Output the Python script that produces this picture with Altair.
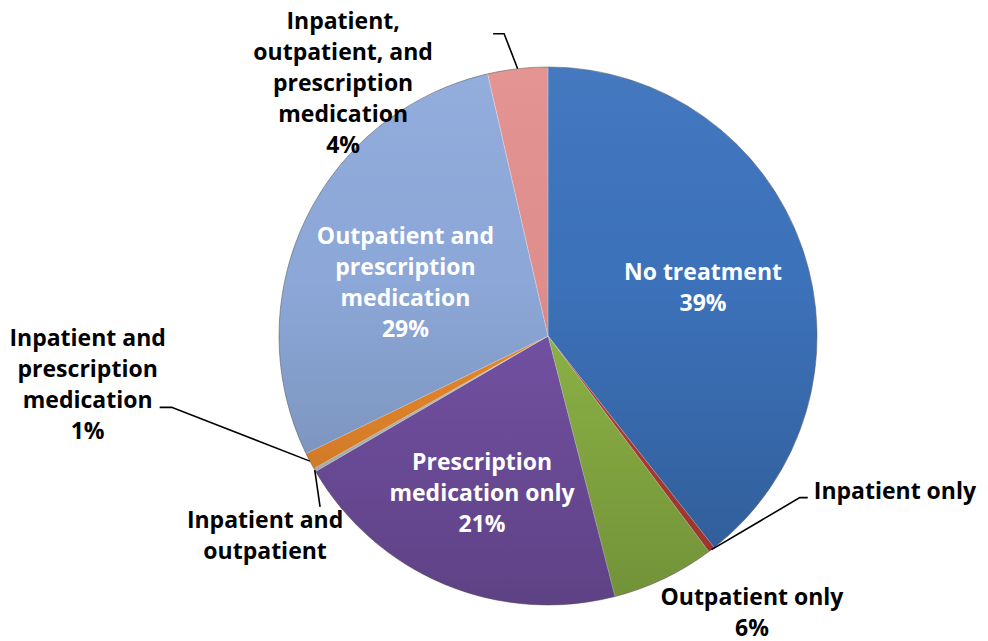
import math
import altair as alt
import pandas as pd

# ---------------- data ----------------
categories = [
    "No treatment",
    "Inpatient only",
    "Outpatient only",
    "Prescription medication only",
    "Inpatient and outpatient",
    "Inpatient and prescription medication",
    "Outpatient and prescription medication",
    "Inpatient, outpatient, and prescription medication",
]
values = [39.4, 0.4, 6.2, 20.6, 0.2, 1.0, 28.6, 3.6]
show_pct = [True, False, True, True, False, True, True, True]
display_names = [
    "No treatment",
    "Inpatient only",
    "Outpatient only",
    "Prescription\nmedication only",
    "Inpatient and\noutpatient",
    "Inpatient and\nprescription\nmedication",
    "Outpatient and\nprescription\nmedication",
    "Inpatient,\noutpatient, and\nprescription\nmedication",
]
colors = ["#3D74BE", "#C0403A", "#92BA48", "#7854AA",
          "#BCC6C8", "#F28E2E", "#8FABDC", "#E3918F"]

# ---------------- layout (styles / label placement) ----------------
CX, CY, R = 540, 328, 269
LH = 31
inside = [True, False, False, True, False, False, True, False]
label_r = [162, 308, 344, 171, 347, 463, 152, 325]
label_off = [2.2, -22.2, -10.8, 0.0, -5.5, 21.6, -5.3, -32.6]
label_align = ["center", "left", "center", "center", "center", "center", "center", "center"]
# leader: (dx, dy) offsets from the label block centre, after the start on the slice edge
leaders = {
    1: [(-14, 6), (-6, 6)],
    4: [(55, -30)],
    5: [(84, 22), (72, 22)],
    7: [(161, -50), (150, -50)],
}

total = sum(values)
rows = []
cum = 0.0
for i, (c, v) in enumerate(zip(categories, values)):
    mid = (cum + v / 2) / total * 2 * math.pi
    cum += v
    text = display_names[i] + (f"\n{round(v)}%" if show_pct[i] else "")
    n = text.count("\n") + 1
    a = mid + math.radians(label_off[i])
    bx = label_r[i] * math.sin(a)
    by = -label_r[i] * math.cos(a)
    fy = by - (n - 1) * LH / 2          # first line of the block
    rows.append(dict(
        idx=i, category=c, value=v, label=text,
        ang=math.atan2(bx, -fy), lr=math.hypot(bx, fy),
        bx=CX + bx, by=CY + by,
        tc="#ffffff" if inside[i] else "#000000",
        align=label_align[i], mid=mid,
    ))
df = pd.DataFrame(rows)

# leader lines derived from slice mid-angles and label anchors
lrows = []
for i, pts in leaders.items():
    r = rows[i]
    sx = CX + R * math.sin(r["mid"])
    sy = CY - R * math.cos(r["mid"])
    lrows.append(dict(id=i, o=0, x=sx, y=sy))
    for k, (dx, dy) in enumerate(pts):
        lrows.append(dict(id=i, o=k + 1, x=r["bx"] + dx, y=r["by"] + dy))
ldf = pd.DataFrame(lrows)

base = alt.Chart(df)

arcs = base.mark_arc(radius=R, stroke="#ffffff", strokeWidth=0.6, strokeOpacity=0.4).encode(
    theta=alt.Theta("value:Q", stack=True),
    color=alt.Color("category:N", scale=alt.Scale(domain=categories, range=colors), legend=None),
    order=alt.Order("idx:Q"),
    x=alt.value(CX),
    y=alt.value(CY),
)

shade = alt.Chart(pd.DataFrame({"v": [1]})).mark_arc(
    radius=R,
    stroke="rgba(0,0,0,0.35)", strokeWidth=1,
    fill=alt.LinearGradient(
        gradient="linear",
        stops=[alt.GradientStop(offset=0, color="rgba(255,255,255,0.04)"),
               alt.GradientStop(offset=0.4, color="rgba(0,0,0,0.02)"),
               alt.GradientStop(offset=1, color="rgba(0,0,0,0.22)")],
        x1=0, x2=0, y1=0, y2=1,
    ),
).encode(theta=alt.Theta("v:Q"), x=alt.value(CX), y=alt.value(CY))

lines = alt.Chart(ldf).mark_line(color="#000000", strokeWidth=1.6).encode(
    x=alt.X("x:Q", scale=None),
    y=alt.Y("y:Q", scale=None),
    detail="id:N",
    order="o:Q",
)

def text_layer(al):
    return base.transform_filter(alt.datum.align == al).mark_text(
        font="Open Sans", fontWeight="bold", fontSize=23, lineHeight=LH,
        lineBreak="\n", align=al, baseline="middle",
    ).encode(
        x=alt.value(CX), y=alt.value(CY),
        theta=alt.Theta("ang:Q", scale=None),
        radius=alt.Radius("lr:Q", scale=None),
        text="label:N",
        color=alt.Color("tc:N", scale=None),
    )

chart = alt.layer(arcs, shade, lines, text_layer("center"), text_layer("left")).resolve_scale(
    theta="independent"
).properties(
    width=972, height=633, autosize="none", padding=0
).configure_view(stroke=None)

chart.save("out.html", embed_options={"renderer": "svg", "actions": False})
